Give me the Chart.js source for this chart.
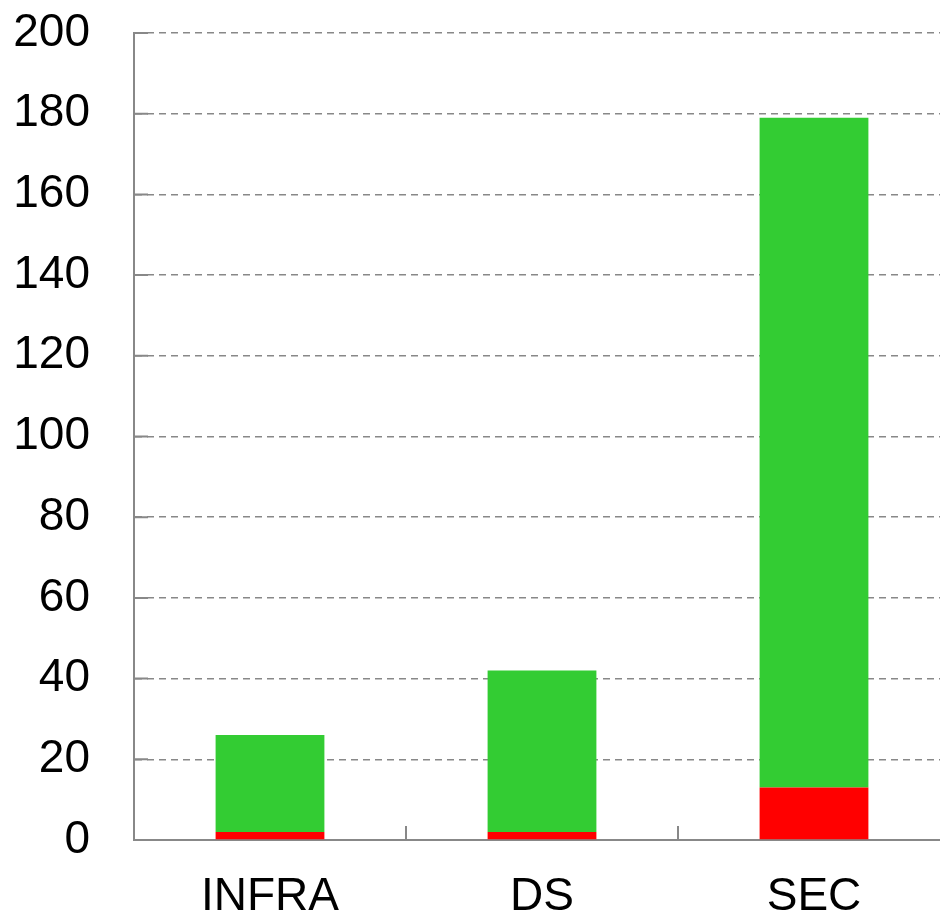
<!DOCTYPE html>
<html>
<head>
<meta charset="utf-8">
<script src="https://cdn.jsdelivr.net/npm/chart.js@4"></script>
<style>
  html, body { margin: 0; padding: 0; background: #fff; overflow: hidden; }
  #wrap { width: 950px; height: 935px; }
</style>
</head>
<body>
<div id="wrap"><canvas id="chart"></canvas></div>
<script>
// ---- data ----
const categories = ["INFRA", "DS", "SEC"];
const redValues = [2, 2, 13];
const greenValues = [24, 40, 166];
const yTicks = [0, 20, 40, 60, 80, 100, 120, 140, 160, 180, 200];

// inward tick marks on both axes
const innerTicks = {
  id: "innerTicks",
  afterDraw(chart) {
    const ctx = chart.ctx;
    const x = chart.scales.x, y = chart.scales.y;
    const area = chart.chartArea;
    ctx.save();
    ctx.strokeStyle = "#888";
    ctx.lineWidth = 2;
    ctx.beginPath();
    for (let i = 0; i < categories.length - 1; i++) {
      const px = Math.round((x.getPixelForValue(i) + x.getPixelForValue(i + 1)) / 2);
      ctx.moveTo(px, area.bottom);
      ctx.lineTo(px, area.bottom - 14);
    }
    yTicks.forEach(v => {
      const py = y.getPixelForValue(v);
      ctx.moveTo(area.left, py);
      ctx.lineTo(area.left + 14, py);
    });
    ctx.stroke();
    ctx.restore();
  }
};

function noPad(axis) {
  axis.paddingTop = 0;
  axis.paddingBottom = 0;
  axis.paddingLeft = 0;
  axis.paddingRight = 0;
}

const ctx = document.getElementById("chart").getContext("2d");
new Chart(ctx, {
  type: "bar",
  data: {
    labels: categories,
    datasets: [
      { label: "red", data: redValues, backgroundColor: "#ff0000", borderWidth: 0 },
      { label: "green", data: greenValues, backgroundColor: "#33cc33", borderWidth: 0 }
    ]
  },
  options: {
    responsive: true,
    maintainAspectRatio: false,
    animation: false,
    devicePixelRatio: 1,
    layout: { padding: { left: 15, top: 33, right: 0, bottom: 0 } },
    plugins: { legend: { display: false }, tooltip: { enabled: false } },
    datasets: { bar: { categoryPercentage: 1, barPercentage: 0.4 } },
    scales: {
      x: {
        stacked: true,
        grid: { display: false, drawTicks: false },
        border: { display: true, color: "#888", width: 2 },
        afterFit: axis => { axis.height = 95; noPad(axis); },
        ticks: {
          color: "#000",
          padding: 30,
          font: { family: "'Liberation Sans', Arial, sans-serif", size: 46 }
        }
      },
      y: {
        stacked: true,
        min: 0,
        max: 200,
        afterBuildTicks: axis => { axis.ticks = yTicks.map(v => ({ value: v })); },
        afterFit: axis => { axis.width = 119; noPad(axis); },
        grid: { color: "#888", lineWidth: 1.5, drawTicks: false },
        border: { display: true, color: "#888", width: 2, dash: [7, 5] },
        ticks: {
          color: "#000",
          padding: 44,
          font: { family: "'Liberation Sans', Arial, sans-serif", size: 46 }
        }
      }
    }
  },
  plugins: [innerTicks]
});
</script>
</body>
</html>
